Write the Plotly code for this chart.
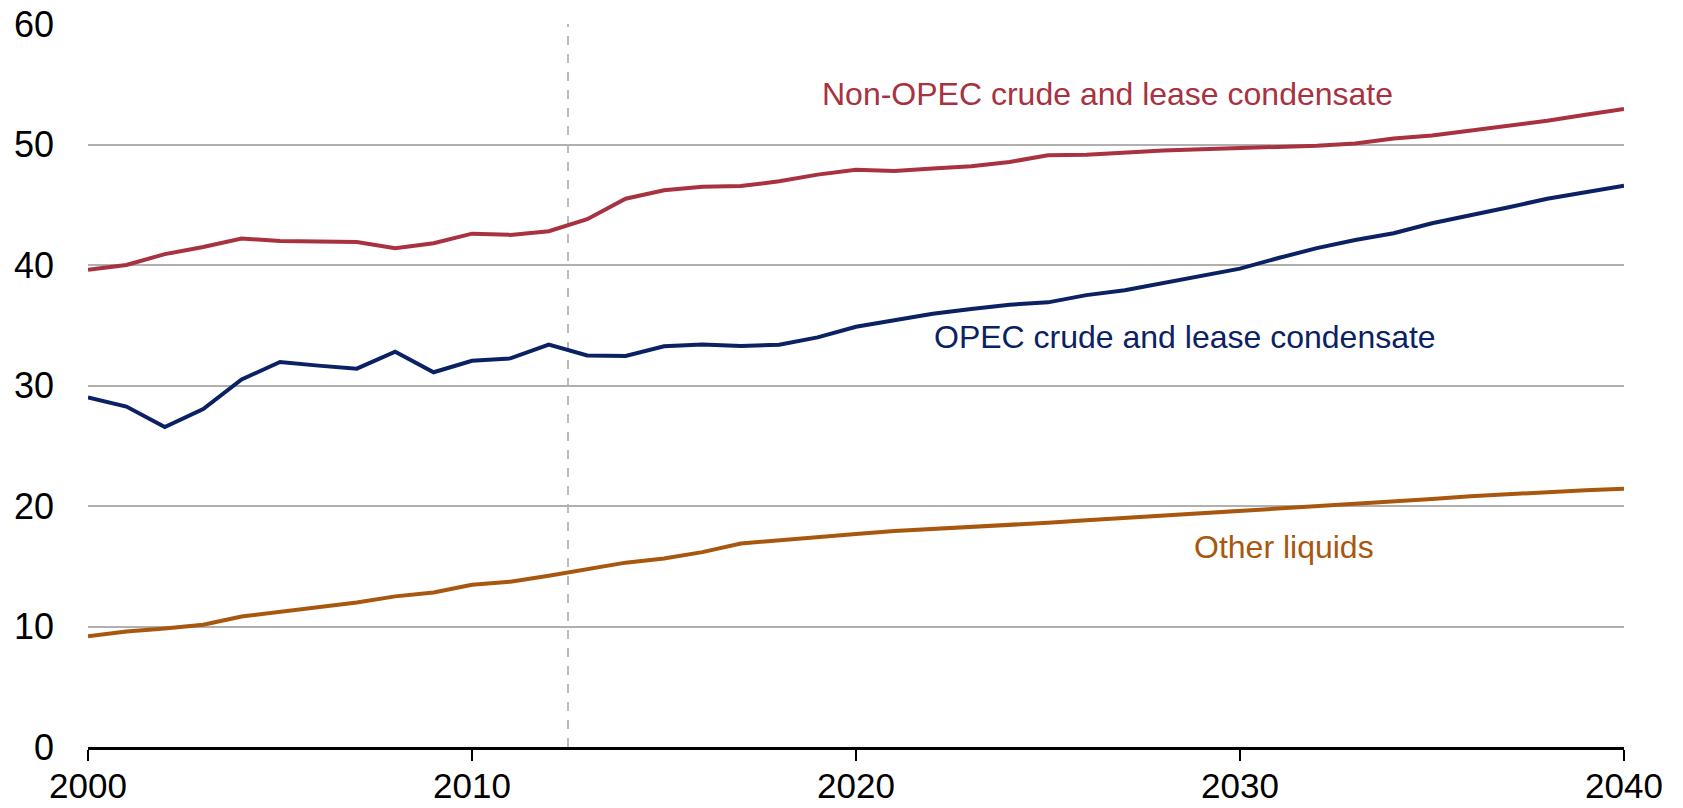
import plotly.graph_objects as go

years = list(range(2000, 2041))

non_opec = [39.6, 40.0, 40.9, 41.5, 42.2, 42.0, 41.95, 41.9, 41.4, 41.8,
            42.6, 42.5, 42.8, 43.8, 45.5, 46.2, 46.5, 46.55, 46.95, 47.5,
            47.9, 47.8, 48.0, 48.2, 48.55, 49.1, 49.15, 49.35, 49.5, 49.6,
            49.7, 49.78, 49.9, 50.08, 50.5, 50.75, 51.14, 51.55, 51.97, 52.47, 52.94]

opec = [29.0, 28.25, 26.55, 28.05, 30.5, 31.95, 31.65, 31.4, 32.8, 31.1,
        32.05, 32.25, 33.4, 32.5, 32.45, 33.25, 33.4, 33.27, 33.38, 33.99,
        34.88, 35.45, 35.95, 36.35, 36.7, 36.9, 37.5, 37.9, 38.5, 39.1,
        39.7, 40.58, 41.4, 42.08, 42.63, 43.46, 44.1, 44.79, 45.5, 46.0, 46.57]

other = [9.2, 9.58, 9.83, 10.14, 10.83, 11.22, 11.64, 12.0, 12.5, 12.83,
         13.47, 13.72, 14.22, 14.8, 15.3, 15.64, 16.17, 16.89, 17.17, 17.42,
         17.67, 17.92, 18.08, 18.28, 18.44, 18.61, 18.81, 19.0, 19.22, 19.44,
         19.64, 19.81, 19.97, 20.19, 20.39, 20.58, 20.81, 21.0, 21.17, 21.31, 21.44]

series_names = ["Non-OPEC crude and lease condensate",
                "OPEC crude and lease condensate",
                "Other liquids"]
colors = ["#A8323F", "#0A2263", "#A8570F"]
label_x = [2026.56, 2028.57, 2031.15]
label_y = [54.15, 34.05, 16.63]

x_ticks = [2000, 2010, 2020, 2030, 2040]
y_ticks = [0, 10, 20, 30, 40, 50, 60]
history_split = 2012.5

FONT = "Liberation Sans, Arial, sans-serif"

fig = go.Figure()
for name, vals, col in zip(series_names, [non_opec, opec, other], colors):
    fig.add_trace(go.Scatter(x=years, y=vals, mode="lines", name=name,
                             line=dict(color=col, width=4), showlegend=False))

for name, col, lx, ly in zip(series_names, colors, label_x, label_y):
    fig.add_annotation(x=lx, y=ly, text=name, showarrow=False,
                       font=dict(family=FONT, size=32, color=col),
                       xanchor="center", yanchor="middle")

fig.add_shape(type="line", x0=history_split, x1=history_split, y0=0, y1=60,
              xref="x", yref="y", line=dict(color="#A6A6A6", width=1.5, dash="dash"),
              layer="below")

fig.update_layout(
    width=1683, height=808,
    margin=dict(l=88, r=59, t=24, b=61),
    plot_bgcolor="white", paper_bgcolor="white",
    font=dict(family=FONT, size=36, color="black"),
    xaxis=dict(range=[2000, 2040], tickvals=x_ticks, showgrid=False,
               showline=True, linecolor="black", linewidth=2.5,
               ticks="outside", ticklen=11, tickwidth=2, tickcolor="black",
               zeroline=False, tickfont=dict(size=35), automargin=False,
               ticklabelstandoff=-5),
    yaxis=dict(range=[0, 60], tickvals=y_ticks, showgrid=True,
               gridcolor="#B0B0B0", gridwidth=1.5, zeroline=False,
               showline=False, ticks="", ticklabelstandoff=33,
               tickfont=dict(size=36), automargin=False),
)

fig.write_html(
    "out.html",
    config={"displayModeBar": False},
    post_script="document.body.style.margin='0';document.body.style.overflow='hidden';",
)
